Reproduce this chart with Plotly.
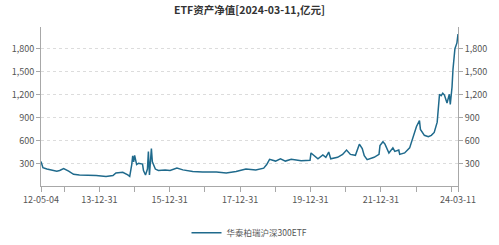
import plotly.graph_objects as go

dates = [
    "2012-05-04", "2012-05-24", "2012-07-04", "2012-10-15", "2012-11-14", "2012-12-25",
    "2013-02-15", "2013-04-07", "2013-06-07", "2013-08-18", "2013-11-28", "2014-03-10",
    "2014-05-21", "2014-06-21", "2014-08-31", "2014-10-22", "2014-11-11", "2014-12-02",
    "2014-12-12", "2014-12-22", "2015-01-01", "2015-01-22", "2015-02-11", "2015-03-24",
    "2015-04-03", "2015-04-24", "2015-05-14", "2015-05-24", "2015-06-04", "2015-06-24",
    "2015-07-04", "2015-08-04", "2015-09-04", "2015-11-14", "2016-01-04", "2016-03-15",
    "2016-05-16", "2016-08-26", "2016-12-06", "2017-04-29", "2017-08-09", "2017-11-19",
    "2018-03-02", "2018-06-12", "2018-09-02", "2018-10-03", "2018-11-02", "2019-01-03",
    "2019-02-23", "2019-04-15", "2019-06-15", "2019-09-26", "2019-12-06", "2019-12-27",
    "2020-01-06", "2020-02-16", "2020-03-18", "2020-05-08", "2020-06-08", "2020-07-08",
    "2020-07-29", "2020-10-08", "2020-11-29", "2021-01-09", "2021-02-18", "2021-04-11",
    "2021-05-22", "2021-06-21", "2021-07-12", "2021-08-11", "2021-10-22", "2021-12-12",
    "2021-12-22", "2022-01-22", "2022-02-12", "2022-03-25", "2022-05-05", "2022-05-25",
    "2022-07-05", "2022-07-15", "2022-09-04", "2022-10-26", "2022-12-05", "2023-01-05",
    "2023-02-05", "2023-02-15", "2023-03-28", "2023-05-08", "2023-06-08", "2023-07-08",
    "2023-08-08", "2023-08-18", "2023-08-23", "2023-09-01", "2023-09-18", "2023-10-05",
    "2023-10-22", "2023-11-18", "2023-12-12", "2023-12-22", "2024-01-09", "2024-01-19",
    "2024-02-08", "2024-02-29", "2024-03-11",
]
values = [
    325, 245, 227, 200, 208, 234,
    200, 158, 150, 150, 142, 131,
    142, 177, 185, 150, 131, 285,
    400, 322, 406, 285, 303, 292,
    208, 150, 227, 457, 150, 495,
    322, 227, 208, 216, 208, 239,
    216, 196, 188, 188, 177, 196,
    227, 216, 239, 285, 354, 331,
    360, 331, 354, 334, 342, 342,
    437, 400, 360, 411, 380, 449,
    360, 380, 418, 475, 418, 406,
    552, 495, 400, 349, 380, 418,
    533, 583, 552, 437, 503, 457,
    475, 418, 437, 503, 667, 782,
    859, 744, 667, 648, 667, 705,
    839, 954, 1031, 1203, 1184, 1215,
    1192, 1088, 1203, 1069, 1298, 1528,
    1796, 1873, 1988,
]

series_name = "华泰柏瑞沪深300ETF"
title_text = "ETF资产净值[2024-03-11,亿元]"

x_tick_vals = ["2012-05-04", "2012-12-31", "2013-12-31", "2014-12-31", "2015-12-31",
               "2016-12-31", "2017-12-31", "2018-12-31", "2019-12-31", "2020-12-31",
               "2021-12-31", "2022-12-31", "2023-12-31", "2024-03-11"]
x_tick_text = ["12-05-04", "", "13-12-31", "", "15-12-31", "", "17-12-31", "",
               "19-12-31", "", "21-12-31", "", "", "24-03-11"]
y_tick_vals = [300, 600, 900, 1200, 1500, 1800]

line_color = "#1f6a8c"
axis_color = "#a8a8a8"
font_color = "#555555"
FONT = "Noto Sans CJK SC"

fig = go.Figure()
fig.add_trace(go.Scatter(
    x=dates, y=values, mode="lines", name=series_name,
    line=dict(color=line_color, width=1.5), yaxis="y",
))
fig.add_trace(go.Scatter(
    x=dates, y=values, mode="lines", name=series_name,
    line=dict(color="rgba(0,0,0,0)", width=0), yaxis="y2",
    showlegend=False, hoverinfo="skip",
))

yrange = [0, 2080]
common_y = dict(
    range=yrange, tickvals=y_tick_vals, tickformat=",",
    showline=True, linecolor=axis_color, linewidth=1,
    ticks="outside", ticklen=4, tickcolor=axis_color,
    tickfont=dict(family=FONT, size=9, color=font_color),
    zeroline=False, fixedrange=True,
)

fig.update_layout(
    width=499, height=245,
    margin=dict(l=39, r=37, t=27, b=39),
    paper_bgcolor="white", plot_bgcolor="white",
    font=dict(family=FONT, color=font_color),
    showlegend=True,
    title=dict(
        text="<b>" + title_text + "</b>",
        xref="paper", yref="container", x=0.5, y=0.957,
        xanchor="center", yanchor="middle",
        font=dict(family=FONT, size=10.5, color="#333333"),
    ),
    legend=dict(
        orientation="h", x=0.5, xanchor="center",
        yref="container", y=0.05, yanchor="middle",
        font=dict(family=FONT, size=8.5, color=font_color),
        itemwidth=30,
    ),
    xaxis=dict(
        type="date", range=["2012-05-04", "2024-03-11"],
        tickvals=x_tick_vals, ticktext=x_tick_text,
        showline=True, linecolor=axis_color, linewidth=1,
        ticks="outside", ticklen=5, tickcolor=axis_color,
        tickfont=dict(family=FONT, size=9, color=font_color),
        showgrid=False, zeroline=False,
    ),
    yaxis=dict(
        side="left", showgrid=True, gridcolor="#dcdcdc", griddash="dot", gridwidth=1,
        **common_y,
    ),
    yaxis2=dict(
        side="right", overlaying="y", showgrid=False,
        **common_y,
    ),
)

fig.write_html("out.html")
